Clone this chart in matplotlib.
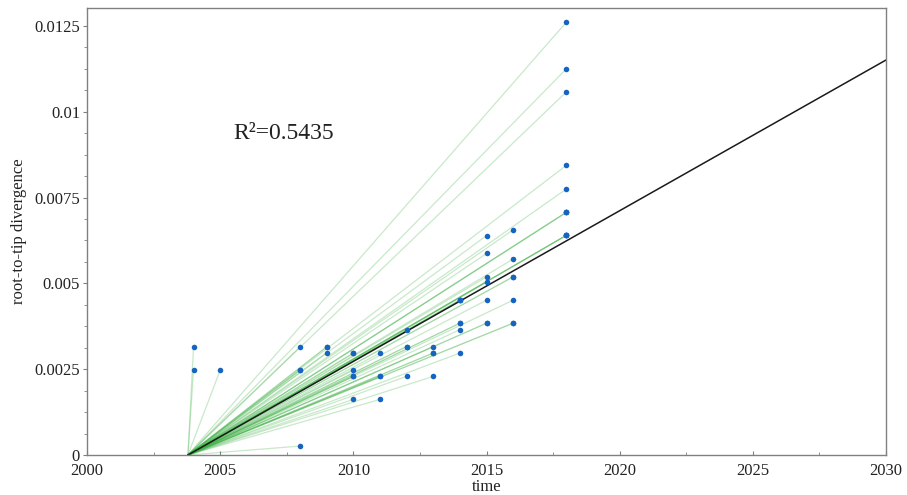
import matplotlib
matplotlib.use("Agg")
import matplotlib.pyplot as plt
from matplotlib.ticker import MultipleLocator

plt.rcParams['font.family'] = ['Liberation Serif', 'DejaVu Serif']

# Sampling dates of the tips and their root-to-tip divergence
tip_dates = [
    2004, 2004, 2005,
    2008, 2008, 2008, 2008,
    2009, 2009, 2009,
    2010, 2010, 2010, 2010, 2010, 2010,
    2011, 2011, 2011, 2011,
    2012, 2012, 2012, 2012,
    2013, 2013, 2013, 2013,
    2014, 2014, 2014, 2014, 2014, 2014, 2014,
    2015, 2015, 2015, 2015, 2015, 2015, 2015,
    2016, 2016, 2016, 2016, 2016, 2016, 2016,
    2018, 2018, 2018, 2018, 2018, 2018, 2018, 2018, 2018, 2018, 2018, 2018,
]
divergence = [
    0.00315, 0.00247, 0.00247,
    0.00315, 0.00247, 0.00247, 0.00026,
    0.00315, 0.00315, 0.00298,
    0.00297, 0.00297, 0.00247, 0.00229, 0.00229, 0.00162,
    0.00297, 0.00229, 0.00229, 0.00162,
    0.00365, 0.00316, 0.00316, 0.00229,
    0.00316, 0.00297, 0.00297, 0.00229,
    0.00451, 0.00451, 0.00451, 0.00384, 0.00384, 0.00365, 0.00297,
    0.00639, 0.00587, 0.00519, 0.00503, 0.00451, 0.00384, 0.00384,
    0.00656, 0.00571, 0.00519, 0.00519, 0.00451, 0.00384, 0.00384,
    0.01261, 0.01125, 0.01058, 0.00844, 0.00775,
    0.00707, 0.00707, 0.00707, 0.00640, 0.00640, 0.00640, 0.00640,
]

# Root-to-tip regression
root_date = 2003.79
rate = 0.000439
r_squared = 0.5435

x_ticks = [2000, 2005, 2010, 2015, 2020, 2025, 2030]
y_ticks = [0, 0.0025, 0.005, 0.0075, 0.01, 0.0125]
y_tick_labels = ['0', '0.0025', '0.005', '0.0075', '0.01', '0.0125']

fig = plt.figure(figsize=(9.07, 4.95), dpi=100)
ax = fig.add_axes([0.0959, 0.0808, 0.8810, 0.9030])

# lines from the root to every tip
for d, v in zip(tip_dates, divergence):
    ax.plot([root_date, d], [0, v], color='#3cb043', alpha=0.28, lw=0.9,
            solid_capstyle='butt', zorder=1)

# regression line
x_end = 2030
ax.plot([root_date, x_end], [0, rate * (x_end - root_date)],
        color='#1a1a1a', lw=1.1, zorder=2)

ax.scatter(tip_dates, divergence, s=16, color='#1565c0', zorder=3,
           linewidths=0)

ax.text(2005.48, 0.00921, f'R\u00b2={r_squared}', fontsize=17,
        color='#222222', va='baseline')

ax.set_xlim(2000, 2030)
ax.set_ylim(0, 0.01302)
ax.set_xticks(x_ticks)
ax.set_yticks(y_ticks)
ax.set_yticklabels(y_tick_labels)
ax.xaxis.set_minor_locator(MultipleLocator(2.5))
ax.yaxis.set_minor_locator(MultipleLocator(0.000625))

for s in ax.spines.values():
    s.set_color('#808080')
    s.set_linewidth(1.0)

ax.tick_params(axis='x', which='major', direction='in', length=3,
               color='#808080', labelsize=12, labelcolor='#222222', pad=6)
ax.tick_params(axis='x', which='minor', direction='in', length=2,
               color='#808080')
ax.tick_params(axis='y', which='major', direction='out', length=3,
               color='#808080', labelsize=12, labelcolor='#222222', pad=2)
ax.tick_params(axis='y', which='minor', direction='out', length=2,
               color='#808080')

ax.set_xlabel('time', fontsize=12, color='#222222', labelpad=0)
ax.set_ylabel('root-to-tip divergence', fontsize=12, color='#222222',
              labelpad=5)

fig.savefig('out.png', dpi=100)
